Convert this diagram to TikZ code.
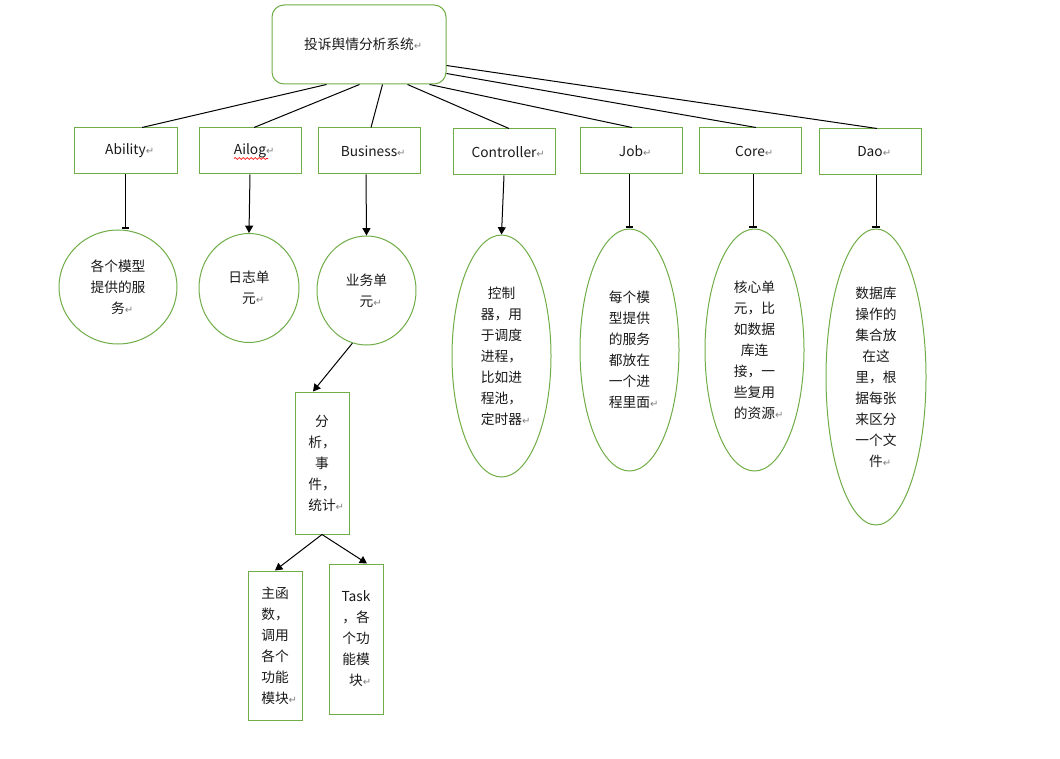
\documentclass[tikz,border=0pt]{standalone}
\usepackage{fontspec}
\setmainfont{Noto Sans CJK SC}
\newfontfamily\markfont{DejaVu Sans}
\usetikzlibrary{arrows.meta,calc,shapes.geometric,decorations.pathmorphing}
\definecolor{wgreen}{HTML}{70AD47}
\definecolor{txtc}{HTML}{1A1A1A}
\newcommand{\retmark}{\rlap{\markfont\fontsize{7.5}{7.5}\selectfont\color{gray}↵}}
\tikzset{
  lbl/.style={font=\fontsize{10.3}{15.75}\selectfont, align=center, text=txtc, inner sep=0pt},
  gbox/.style={lbl, draw=wgreen, line width=0.75pt, rectangle, fill=white},
  gell/.style={lbl, draw=wgreen, line width=0.75pt, ellipse, fill=white},
  link/.style={draw=black, line width=0.75pt},
  arr/.style={link, -{Triangle[length=5.5pt,width=6pt]}},
  hid/.style={link, -{Bar[width=5.5pt,line width=1.6pt]}},
}
\begin{document}
\begin{tikzpicture}[x=0.75pt,y=-0.75pt]
\useasboundingbox (0,0) rectangle (1060,759);
% root
\node[gbox, rounded corners=9pt, minimum width=130.5pt, minimum height=59.25pt] (root) at (359,44.5) {投诉舆情分析系统\retmark};
% second row
\node[gbox, minimum width=77.25pt, minimum height=34.5pt] (ab) at (125.5,151) {Ability\retmark};
\node[gbox, minimum width=76.5pt, minimum height=34.5pt] (al) at (250,151) {Ailog\retmark};
\node[gbox, minimum width=76.5pt, minimum height=34.5pt] (bu) at (369,151) {Business\retmark};
\node[gbox, minimum width=76.5pt, minimum height=34.5pt] (ct) at (504,152) {Controller\retmark};
\node[gbox, minimum width=76.5pt, minimum height=34.5pt] (jb) at (631,151) {Job\retmark};
\node[gbox, minimum width=76.5pt, minimum height=34.5pt] (co) at (750,151) {Core\retmark};
\node[gbox, minimum width=76.5pt, minimum height=34.5pt] (da) at (870,152) {Dao\retmark};
\draw[red, line width=0.5pt, decorate, decoration={snake,amplitude=0.7pt,segment length=3pt}] ($(al.center)+(-16,7.5)$) -- ($(al.center)+(18,7.5)$);
% third row
\node[gell, minimum width=88.5pt, minimum height=85.5pt] (c1) at (118,287) {各个模型\\提供的服\\务\retmark};
\node[gell, minimum width=75pt, minimum height=81.75pt] (c2) at (249,288) {日志单\\元\retmark};
\node[gell, minimum width=74.25pt, minimum height=81.75pt] (c3) at (366.5,290.5) {业务单\\元\retmark};
\node[gell, minimum width=74.25pt, minimum height=181.5pt] (e4) at (501.5,356) {控制\\器，用\\于调度\\进程，\\比如进\\程池，\\定时器\retmark};
\node[gell, minimum width=74.25pt, minimum height=181.5pt] (e5) at (629.5,350) {每个模\\型提供\\的服务\\都放在\\一个进\\程里面\retmark};
\node[gell, minimum width=74.25pt, minimum height=181.5pt] (e6) at (754.5,350) {核心单\\元，比\\如数据\\库连\\接，一\\些复用\\的资源\retmark};
\node[gell, minimum width=75pt, minimum height=222pt] (e7) at (876,377) {数据库\\操作的\\集合放\\在这\\里，根\\据每张\\来区分\\一个文\\件\retmark};
% lower boxes
\node[gbox, minimum width=40.5pt, minimum height=106.5pt] (fx) at (322,463) {分\\析，\\事\\件，\\统计\retmark};
\node[gbox, minimum width=40.5pt, minimum height=111.75pt] (zh) at (275,645.5) {主函\\数，\\调用\\各个\\功能\\模块\retmark};
\node[gbox, minimum width=40.5pt, minimum height=112.5pt] (tk) at (356,639) {Task\\，各\\个功\\能模\\块\retmark};
% root connectors
\draw[link] ($(root.south west)+(55,0)$) -- ($(ab.north)+(16.5,0)$);
\draw[link] ($(root.south west)+(88,0)$) -- ($(al.north)+(4,0)$);
\draw[link] ($(root.south west)+(111,0)$) -- ($(bu.north)+(2,0)$);
\draw[link] ($(root.south west)+(136,0)$) -- ($(ct.north)+(5,0)$);
\draw[link] ($(root.south west)+(158,0)$) -- ($(jb.north)+(1,0)$);
\draw[link] ($(root.north east)+(0,69)$) -- ($(co.north)+(6,0)$);
\draw[link] ($(root.north east)+(0,61)$) -- ($(da.north)+(7,0)$);
% down arrows
\draw[hid] (ab.south) -- (ab.south |- c1.north);
\draw[arr] (al.south) -- (c2.north);
\draw[arr] ($(bu.south)+(-3,0)$) -- (c3.north);
\draw[arr] (ct.south) -- (e4.north);
\draw[hid] (e5.north |- jb.south) -- (e5.north);
\draw[hid] ($(e6.north |- co.south)+(-1.5,0)$) -- ($(e6.north)+(-1.5,0)$);
\draw[hid] (e7.north |- da.south) -- (e7.north);
% lower arrows
\draw[arr] (c3.255) -- ($(fx.north)+(-9,0)$);
\draw[arr] (fx.south) -- (zh.north);
\draw[arr] (fx.south) -- ($(tk.north)+(11,0)$);
\end{tikzpicture}
\end{document}
